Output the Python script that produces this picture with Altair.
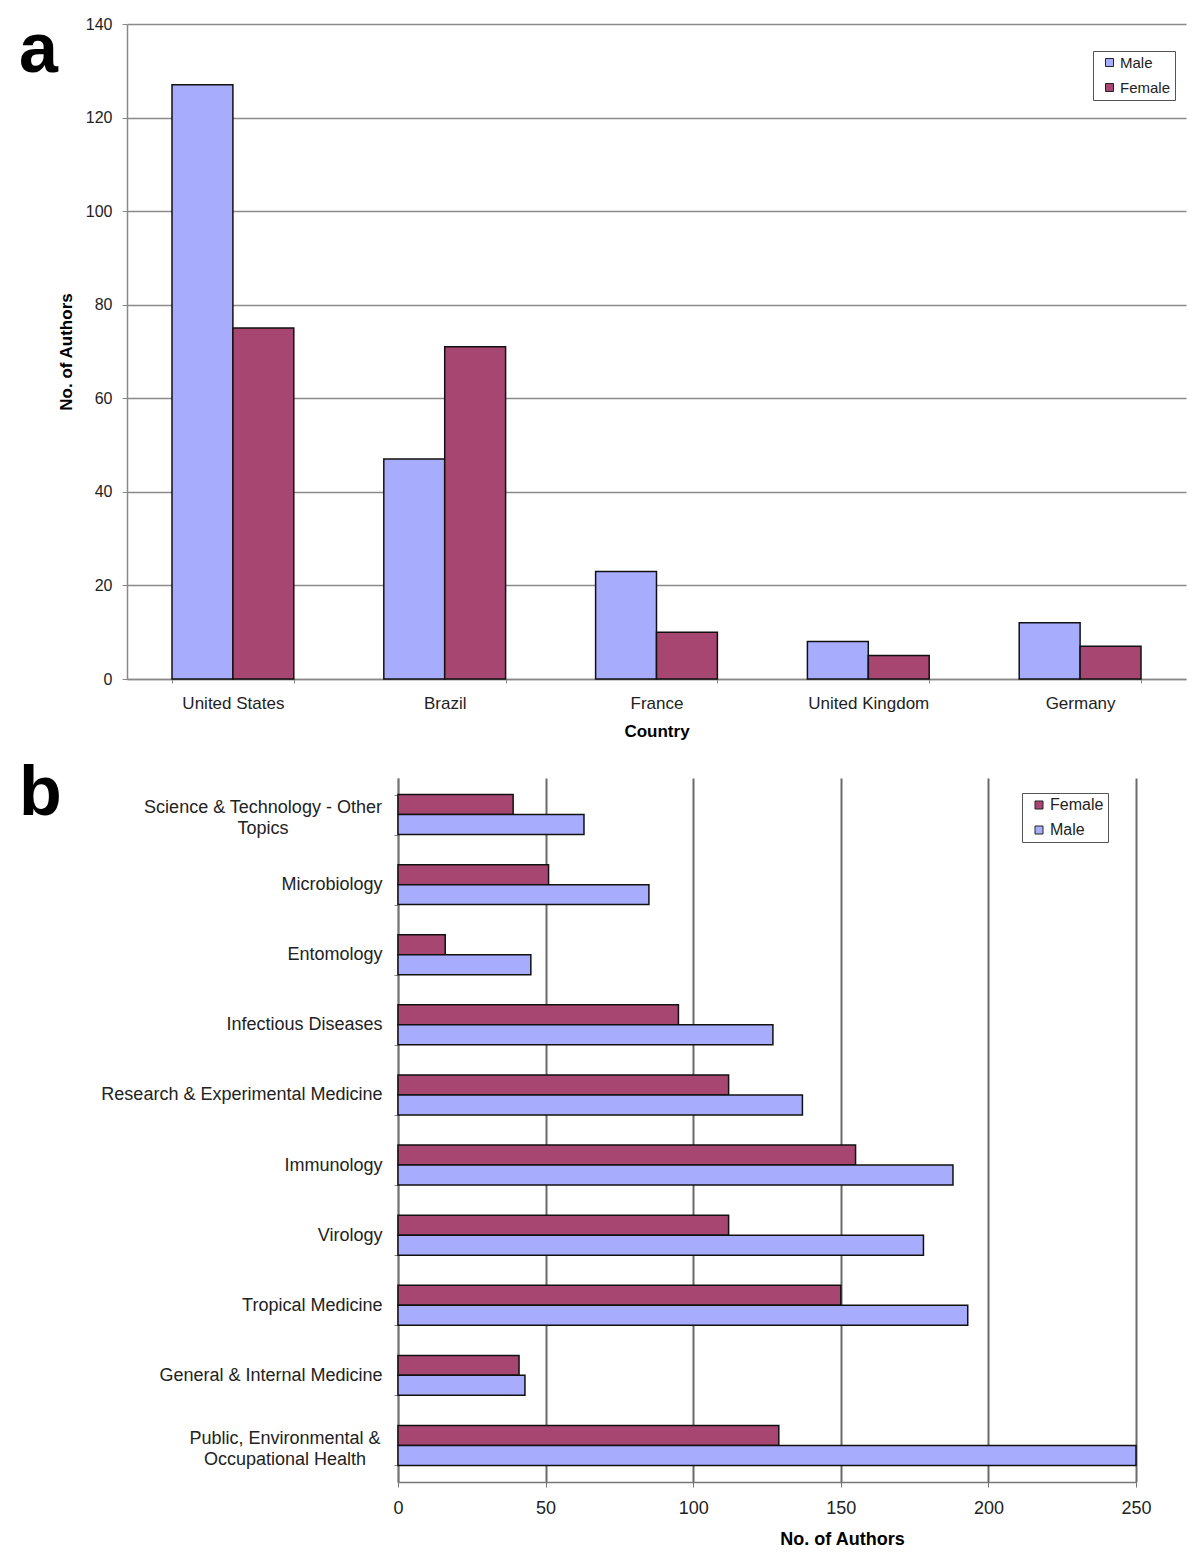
import altair as alt
import pandas as pd

# ---------------- data ----------------
countries = ["United States", "Brazil", "France", "United Kingdom", "Germany"]
country_male = [127, 47, 23, 8, 12]
country_female = [75, 71, 10, 5, 7]

fields = [
    "Science & Technology - Other Topics",
    "Microbiology",
    "Entomology",
    "Infectious Diseases",
    "Research & Experimental Medicine",
    "Immunology",
    "Virology",
    "Tropical Medicine",
    "General & Internal Medicine",
    "Public, Environmental & Occupational Health",
]
field_female = [39, 51, 16, 95, 112, 155, 112, 150, 41, 129]
field_male = [63, 85, 45, 127, 137, 188, 178, 193, 43, 250]

panel_letters_a = ["a"]
panel_letters_b = ["b"]

MALE = "#a8acfd"
FEMALE = "#a74670"
FONT = "Liberation Sans"
GRID_A = "#8a8a8a"
GRID_B = "#6a6a6a"

# panel b plot is shifted right inside its view so both panels share one origin
B_SHIFT = 271
B_WIDTH = 738

df_a = pd.DataFrame({
    "Country": countries * 2,
    "Gender": ["Male"] * len(countries) + ["Female"] * len(countries),
    "Authors": country_male + country_female,
})
df_b = pd.DataFrame({
    "Field": fields * 2,
    "Gender": ["Female"] * len(fields) + ["Male"] * len(fields),
    "Authors": field_female + field_male,
})

# ---------------- panel a ----------------
bars_a = alt.Chart(df_a).mark_bar(stroke="#111111", strokeWidth=1.5).encode(
    x=alt.X(
        "Country:N", sort=countries,
        scale=alt.Scale(paddingInner=0.425, paddingOuter=0.2125),
        axis=alt.Axis(
            title="Country", labelAngle=0, tickBand="extent", tickSize=4,
            tickColor="#888888", domainColor="#888888", domainWidth=1.5,
            labelPadding=12, titlePadding=12, labelFontSize=17, titleFontSize=17,
            labelColor="#222222", titleColor="#000000", grid=False,
        ),
    ),
    xOffset=alt.XOffset("Gender:N", sort=["Male", "Female"],
                        scale=alt.Scale(paddingInner=0, paddingOuter=0)),
    y=alt.Y(
        "Authors:Q",
        scale=alt.Scale(domain=[0, 140], nice=False),
        axis=alt.Axis(
            title="No. of Authors", values=list(range(0, 141, 20)), tickSize=5,
            tickColor="#888888", domainColor="#888888", domainWidth=1.5,
            grid=True, gridColor=GRID_A, gridWidth=1.5,
            labelPadding=10, titlePadding=10, labelFontSize=16, titleFontSize=17,
            labelColor="#222222", titleColor="#000000",
        ),
    ),
    color=alt.Color(
        "Gender:N",
        scale=alt.Scale(domain=["Male", "Female"], range=[MALE, FEMALE]),
        legend=alt.Legend(
            title=None, orient="none", legendX=966, legendY=27,
            strokeColor="#555555", fillColor="white", padding=4,
            symbolType="square", symbolSize=64, symbolStrokeColor="#222222",
            symbolStrokeWidth=1, labelFontSize=15, labelOffset=3,
            rowPadding=9, symbolOffset=5, labelColor="#222222",
        ),
    ),
)

letter_a = alt.Chart(pd.DataFrame({"t": panel_letters_a})).mark_text(
    align="left", baseline="alphabetic", fontSize=70, fontWeight="bold",
    font=FONT, color="#000000",
).encode(x=alt.value(-108), y=alt.value(48), text="t:N")

panel_a = alt.layer(bars_a, letter_a).properties(width=1059, height=655)

# ---------------- panel b ----------------
science = fields[0]
public = fields[-1]
label_expr = (
    f"datum.label == '{science}' ? ['Science & Technology - Other', 'Topics'] : "
    f"datum.label == '{public}' ? ['Public, Environmental &', 'Occupational Health'] : datum.label"
)
two_line_test = f"datum.label == '{science}' || datum.label == '{public}'"

bars_b = alt.Chart(df_b).mark_bar(stroke="#111111", strokeWidth=1.5).encode(
    y=alt.Y(
        "Field:N", sort=fields,
        scale=alt.Scale(paddingInner=0.43, paddingOuter=0.236),
        axis=alt.Axis(
            title=None, tickBand="extent", tickSize=4, tickColor="#888888",
            domainColor="#777777", domainWidth=1.5, grid=False, offset=-B_SHIFT,
            labelExpr=label_expr, labelFontSize=18, labelColor="#222222",
            labelLineHeight=21, labelLimit=400,
            labelAlign={"condition": {"test": two_line_test, "value": "center"},
                        "value": "right"},
            labelOffset={"condition": {"test": two_line_test, "value": -7},
                         "value": 0},
            labelPadding={"condition": [
                {"test": f"datum.label == '{science}'", "value": 131.5},
                {"test": f"datum.label == '{public}'", "value": 109.5},
            ], "value": 12},
        ),
    ),
    yOffset=alt.YOffset("Gender:N", sort=["Female", "Male"],
                        scale=alt.Scale(paddingInner=0, paddingOuter=0)),
    x=alt.X(
        "Authors:Q",
        scale=alt.Scale(domain=[0, 250], nice=False, range=[B_SHIFT, B_SHIFT + B_WIDTH]),
        axis=alt.Axis(
            title="No. of Authors", values=list(range(0, 251, 50)), tickSize=5,
            tickColor="#777777", domainColor="#777777", domainWidth=1.5,
            grid=True, gridColor=GRID_B, gridWidth=2,
            labelPadding=12, titlePadding=13, labelFontSize=18, titleFontSize=18,
            labelColor="#222222", titleColor="#000000", titleX=B_SHIFT + 444,
            titleAlign="center", labelFlush=False,
        ),
    ),
    color=alt.Color(
        "Gender:N",
        scale=alt.Scale(domain=["Female", "Male"], range=[FEMALE, MALE]),
        legend=alt.Legend(
            title=None, orient="none", legendX=B_SHIFT + 624, legendY=15,
            strokeColor="#555555", fillColor="white", padding=4,
            symbolType="square", symbolSize=64, symbolStrokeColor="#222222",
            symbolStrokeWidth=1, labelFontSize=16, labelOffset=3,
            rowPadding=9, symbolOffset=5, labelColor="#222222",
        ),
    ),
)

letter_b = alt.Chart(pd.DataFrame({"t": panel_letters_b})).mark_text(
    align="left", baseline="alphabetic", fontSize=70, fontWeight="bold",
    font=FONT, color="#000000",
).encode(x=alt.value(-108), y=alt.value(37), text="t:N")

panel_b = alt.layer(bars_b, letter_b).properties(width=B_SHIFT + B_WIDTH, height=704)

chart = alt.vconcat(panel_a, panel_b, spacing=20).resolve_scale(
    color="independent", x="independent", y="independent"
).properties(
    padding={"left": 11, "top": 8, "right": 5, "bottom": 5}
).configure_view(stroke=None).configure_axis(
    labelFont=FONT, titleFont=FONT, titleFontWeight="bold"
).configure_legend(labelFont=FONT)

chart.save("out.html", embed_options={"renderer": "svg", "actions": False})
